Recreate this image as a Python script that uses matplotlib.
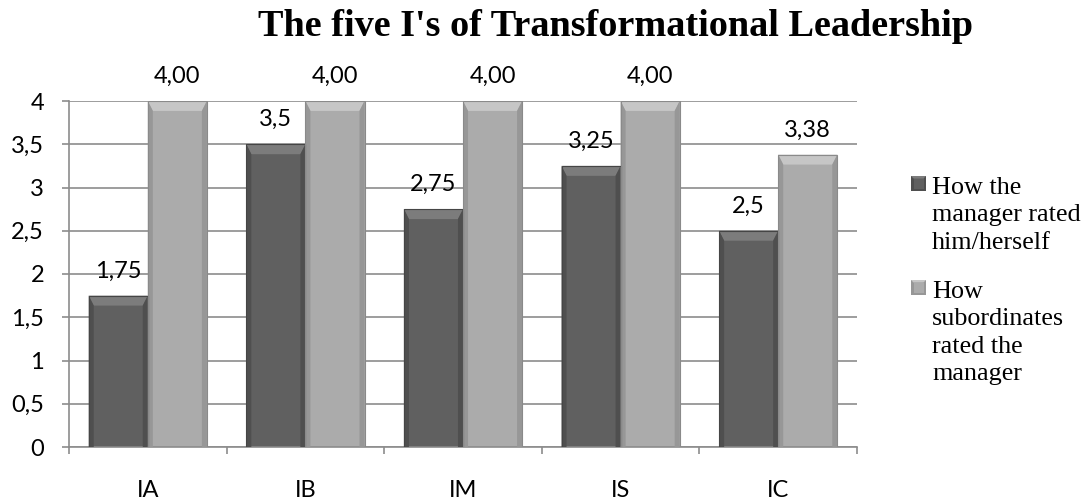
import matplotlib
matplotlib.use("Agg")
import matplotlib.pyplot as plt
from matplotlib.patches import Polygon, Rectangle
import numpy as np

categories = ["IA", "IB", "IM", "IS", "IC"]
self_rating = [1.75, 3.5, 2.75, 3.25, 2.5]
self_labels = ["1,75", "3,5", "2,75", "3,25", "2,5"]
sub_rating = [4.00, 4.00, 4.00, 4.00, 3.38]
sub_labels = ["4,00", "4,00", "4,00", "4,00", "3,38"]
yticks = [0, 0.5, 1, 1.5, 2, 2.5, 3, 3.5, 4]
ytick_labels = ["0", "0,5", "1", "1,5", "2", "2,5", "3", "3,5", "4"]
series_names = ["How the\nmanager rated\nhim/herself",
                "How\nsubordinates\nrated the\nmanager"]

W, H = 1086, 504
fig = plt.figure(figsize=(W/100, H/100), dpi=100)
ax = fig.add_axes([69/W, 57/H, 788/W, 346/H])

x = np.arange(len(categories))
w = 0.375
grid_c = "#8c8c8c"

dark = dict(body="#606060", top="#7c7c7c", side="#4f4f4f", edge="#454545")
light = dict(body="#ababab", top="#c6c6c6", side="#979797", edge="#8a8a8a")

def bevel(bars, st):
    for b in bars:
        x0, y0 = b.get_x(), b.get_y()
        bw, bh = b.get_width(), b.get_height()
        dx, dy = 0.032, 0.115
        ax.add_patch(Polygon([[x0, y0 + bh], [x0 + bw, y0 + bh],
                              [x0 + bw - dx, y0 + bh - dy], [x0 + dx, y0 + bh - dy]],
                             closed=True, facecolor=st["top"], edgecolor="none", zorder=3))
        ax.add_patch(Polygon([[x0, y0], [x0, y0 + bh], [x0 + dx, y0 + bh - dy], [x0 + dx, y0]],
                             closed=True, facecolor=st["side"], edgecolor="none", zorder=3))
        ax.add_patch(Polygon([[x0 + bw, y0], [x0 + bw, y0 + bh], [x0 + bw - dx, y0 + bh - dy],
                              [x0 + bw - dx, y0]],
                             closed=True, facecolor=st["side"], edgecolor="none", zorder=3))
        ax.add_patch(Rectangle((x0, y0), bw, bh, facecolor="none",
                               edgecolor=st["edge"], linewidth=0.8, zorder=4))

b1 = ax.bar(x - w/2, self_rating, w, color=dark["body"], zorder=2)
b2 = ax.bar(x + w/2, sub_rating, w, color=light["body"], zorder=2)
bevel(b1, dark)
bevel(b2, light)

sans = ["Lato", "DejaVu Sans"]
serif = ["Liberation Serif", "DejaVu Serif"]
lab_font = dict(family=sans, size=17, color="#000000")
for xi, v, t in zip(x - w/2, self_rating, self_labels):
    ax.annotate(t, (xi, v), xytext=(0, 13), textcoords="offset points",
                ha="center", va="baseline", **lab_font)
for xi, v, t in zip(x + w/2, sub_rating, sub_labels):
    ax.annotate(t, (xi, v), xytext=(0, 13), textcoords="offset points",
                ha="center", va="baseline", annotation_clip=False, **lab_font)

ax.set_xlim(-0.5, len(categories) - 0.5)
ax.set_ylim(0, 4)
ax.set_yticks(yticks)
ax.set_yticklabels(ytick_labels)
ax.set_xticks(x)
ax.set_xticklabels(categories)
ax.set_xticks(np.arange(len(categories) + 1) - 0.5, minor=True)
ax.tick_params(axis="x", which="major", length=0, pad=24)
ax.tick_params(axis="x", which="minor", length=5, color=grid_c, width=1.2, direction="out")
ax.tick_params(axis="y", length=5, color=grid_c, width=1.2, direction="out", pad=13)
for lab in ax.get_xticklabels() + ax.get_yticklabels():
    lab.set_fontfamily(sans)
    lab.set_fontsize(17)

ax.yaxis.grid(True, color=grid_c, linewidth=1.2, zorder=0)
ax.set_axisbelow(True)
for s in ["top", "right"]:
    ax.spines[s].set_visible(False)
for s in ["left", "bottom"]:
    ax.spines[s].set_color(grid_c)
    ax.spines[s].set_linewidth(1.2)

fig.text(615/W, 1 - 36/H, "The five I's of Transformational Leadership",
         family=serif, weight="bold", size=27.5, ha="center", va="baseline")

# legend (drawn manually so the marker aligns with the first text line)
line_h = 27.3
block_baselines = [194, 298]
for name, st, yb in zip(series_names, [dark, light], block_baselines):
    for k, line in enumerate(name.split("\n")):
        fig.text(932/W, 1 - (yb + k*line_h)/H, line, family=serif, size=18.8,
                 ha="left", va="baseline")
    fig.add_artist(Rectangle((911/W, 1 - (yb - 3)/H), 15/W, 15/H, transform=fig.transFigure,
                             facecolor=st["side"], edgecolor="none"))
    fig.add_artist(Rectangle((913.5/W, 1 - (yb - 5.5)/H), 10/W, 10/H, transform=fig.transFigure,
                             facecolor=st["body"], edgecolor="none"))
    fig.add_artist(Polygon([[911/W, 1 - (yb - 18)/H], [926/W, 1 - (yb - 18)/H],
                            [923.5/W, 1 - (yb - 15.5)/H], [913.5/W, 1 - (yb - 15.5)/H]],
                           closed=True, transform=fig.transFigure,
                           facecolor=st["top"], edgecolor="none"))

fig.savefig("out.png", dpi=100)
